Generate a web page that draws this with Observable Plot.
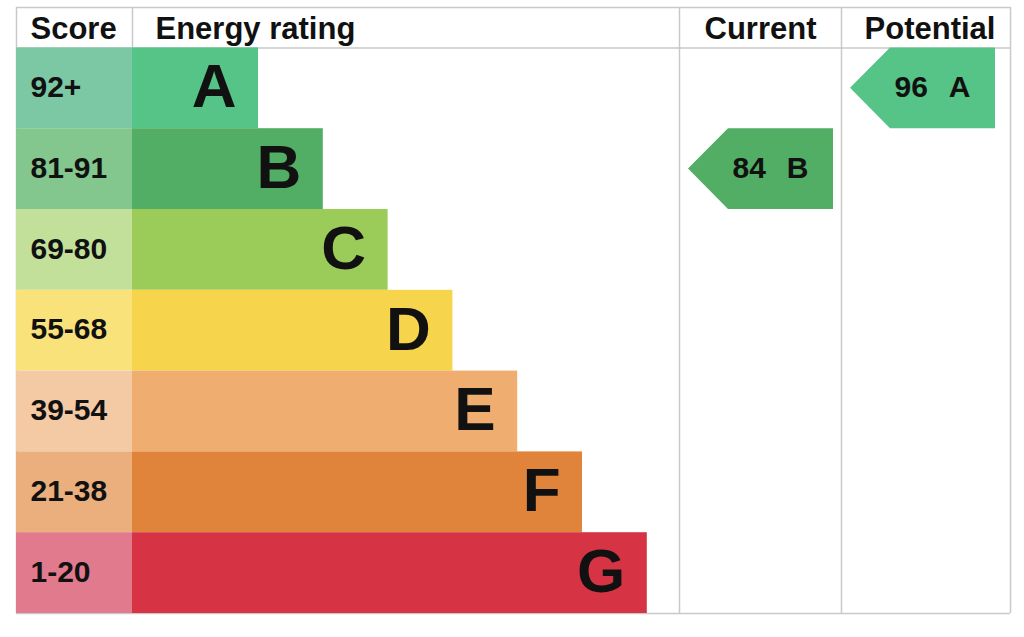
<!DOCTYPE html>
<html>
<head>
<meta charset="utf-8">
<script src="https://cdn.jsdelivr.net/npm/d3@7"></script>
<script src="https://cdn.jsdelivr.net/npm/@observablehq/plot@0.6"></script>
<style>
  html, body { margin: 0; padding: 0; background: #fff; }
  svg { display: block; font-family: "Liberation Sans", Arial, sans-serif; }
</style>
</head>
<body>
<div id="chart"></div>
<script>
// ---- data ----
const letters = ["A", "B", "C", "D", "E", "F", "G"];
const scoreRanges = ["92+", "81-91", "69-80", "55-68", "39-54", "21-38", "1-20"];
const bandMin = [92, 81, 69, 55, 39, 21, 1];
const headers = ["Score", "Energy rating", "Current", "Potential"];
const currentScore = 84;
const potentialScore = 96;

// ---- styles ----
const barColors = ["#56c387", "#51ae64", "#9bcb58", "#f6d44b", "#efad70", "#e0843c", "#d63444"];
const cellColors = ["#7cc7a4", "#83c78f", "#c2e09a", "#fae27b", "#f4caa4", "#eaaf7c", "#e27a8d"];
const lineColor = "#c9c9c9";

// ---- layout (pixels on an identity x scale, rows on y) ----
const colEdges = [16, 132, 679, 841, 1010];
const barUnit = 64.8;
const barBase = 126;
const arrowLen = 145, arrowTip = 40, arrowInset = 9;

const bandOf = s => bandMin.findIndex(m => s >= m);

const rows = letters.map((l, i) => ({
  letter: l, range: scoreRanges[i], i,
  end: colEdges[1] + barBase + barUnit * i
}));

function arrowPoints(score, col) {
  const i = bandOf(score);
  const tip = colEdges[col] + arrowInset;
  const right = tip + arrowLen;
  const body = tip + arrowTip;
  return [
    {y: i, x1: body, x2: right, c: barColors[i]},
    {y: i + 0.5, x1: tip, x2: right, c: barColors[i]},
    {y: i + 1, x1: body, x2: right, c: barColors[i]}
  ];
}
function arrowLabel(score, col) {
  const i = bandOf(score);
  return {x: colEdges[col] + arrowInset + 82, y: i + 0.5, text: `${score}\u2002\u2009${letters[i]}`};
}

const headerLeft = [
  {text: headers[0], x: 30},
  {text: headers[1], x: 155}
];
const headerCenter = [
  {text: headers[2], x: (colEdges[2] + colEdges[3]) / 2},
  {text: headers[3], x: (colEdges[3] + colEdges[4]) / 2 + 4}
];

const hLines = [
  {y: -0.5, x1: colEdges[0], x2: colEdges[4]},
  {y: 0, x1: colEdges[0], x2: colEdges[4]},
  {y: 7, x1: colEdges[0], x2: colEdges[4]}
];
const vLines = [
  {x: colEdges[0], y1: -0.5, y2: 7},
  {x: colEdges[1], y1: -0.5, y2: 0},
  {x: colEdges[2], y1: -0.5, y2: 7},
  {x: colEdges[3], y1: -0.5, y2: 7},
  {x: colEdges[4], y1: -0.5, y2: 7}
];

const chart = Plot.plot({
  width: 1024,
  height: 637,
  margin: 0,
  x: {type: "linear", domain: [0, 1024], range: [0, 1024], axis: null},
  y: {type: "linear", domain: [-0.5, 7], range: [7, 613], axis: null},
  color: {type: "identity"},
  marks: [
    Plot.ruleY(hLines, {y: "y", x1: "x1", x2: "x2", stroke: lineColor, strokeWidth: 1.5}),
    Plot.ruleX(vLines, {x: "x", y1: "y1", y2: "y2", stroke: lineColor, strokeWidth: 1.5}),
    Plot.rect(rows, {x1: colEdges[0], x2: colEdges[1], y1: d => d.i, y2: d => d.i + 1, fill: d => cellColors[d.i]}),
    Plot.rect(rows, {x1: colEdges[1], x2: "end", y1: d => d.i, y2: d => d.i + 1, fill: d => barColors[d.i]}),
    Plot.text(rows, {x: 30, y: d => d.i + 0.5, dy: -1, text: "range", textAnchor: "start", fontSize: 30, fontWeight: "bold", fill: "#111"}),
    Plot.text(rows, {x: d => d.end - 22, y: d => d.i + 0.5, dy: -1, text: "letter", textAnchor: "end", fontSize: 62, fontWeight: "bold", fill: "#111"}),
    Plot.areaX(arrowPoints(currentScore, 2), {y: "y", x1: "x1", x2: "x2", fill: "c", curve: "linear"}),
    Plot.areaX(arrowPoints(potentialScore, 3), {y: "y", x1: "x1", x2: "x2", fill: "c", curve: "linear"}),
    Plot.text([arrowLabel(currentScore, 2), arrowLabel(potentialScore, 3)], {x: "x", y: "y", dy: -1, text: "text", fontSize: 30, fontWeight: "bold", fill: "#111"}),
    Plot.text(headerLeft, {x: "x", y: -0.25, dy: 1, text: "text", textAnchor: "start", fontSize: 31, fontWeight: "bold", fill: "#111"}),
    Plot.text(headerCenter, {x: "x", y: -0.25, dy: 1, text: "text", textAnchor: "middle", fontSize: 31, fontWeight: "bold", fill: "#111"})
  ]
});
document.getElementById("chart").append(chart);
</script>
</body>
</html>
